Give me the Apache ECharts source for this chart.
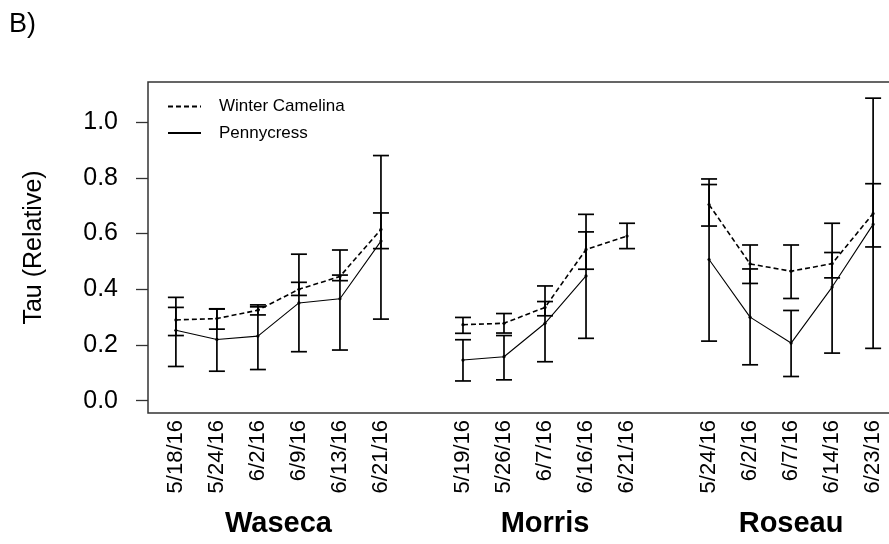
<!DOCTYPE html>
<html><head><meta charset="utf-8">
<script src="https://cdn.jsdelivr.net/npm/echarts@6/dist/echarts.min.js"></script>
<style>html,body{margin:0;padding:0;background:#fff}#c{width:889px;height:544px}</style>
</head><body><div id="c"></div>
<script>
const panelLabel = 'B)';
const yTitle = 'Tau (Relative)';
const yTicks = [0, 0.2, 0.4, 0.6, 0.8, 1.0];
const yLimits = [0, 1.1];
const groupNames = ['Waseca', 'Morris', 'Roseau'];
const wasecaDates = ['5/18/16', '5/24/16', '6/2/16', '6/9/16', '6/13/16', '6/21/16'];
const morrisDates = ['5/19/16', '5/26/16', '6/7/16', '6/16/16', '6/21/16'];
const roseauDates = ['5/24/16', '6/2/16', '6/7/16', '6/14/16', '6/23/16'];
const seriesNames = ['Winter Camelina', 'Pennycress'];

// values listed in order: Waseca dates, Morris dates, Roseau dates
const camelinaMean = [0.290, 0.295, 0.325, 0.400, 0.446, 0.615, 0.273, 0.278, 0.335, 0.543, 0.591, 0.704, 0.491, 0.465, 0.492, 0.672];
const camelinaLow  = [0.234, 0.257, 0.308, 0.378, 0.431, 0.546, 0.242, 0.243, 0.305, 0.472, 0.546, 0.627, 0.421, 0.367, 0.441, 0.552];
const camelinaHigh = [0.335, 0.329, 0.337, 0.425, 0.451, 0.674, 0.299, 0.313, 0.356, 0.606, 0.637, 0.776, 0.559, 0.559, 0.532, 0.779];
const pennyMean = [0.253, 0.220, 0.232, 0.351, 0.366, 0.573, 0.146, 0.158, 0.278, 0.448, null, 0.507, 0.300, 0.207, 0.408, 0.633];
const pennyLow  = [0.123, 0.106, 0.112, 0.176, 0.182, 0.293, 0.071, 0.075, 0.140, 0.224, null, 0.214, 0.129, 0.087, 0.171, 0.188];
const pennyHigh = [0.371, 0.330, 0.344, 0.526, 0.541, 0.880, 0.219, 0.234, 0.412, 0.669, null, 0.796, 0.473, 0.324, 0.637, 1.086];

// ---- build positions (one empty slot between sites) ----
const groups = [wasecaDates, morrisDates, roseauDates];
const positions = [], dateLabels = {}, gapPositions = [], groupCenters = [];
let slot = 0;
groups.forEach(g => {
  const start = slot;
  g.forEach(d => { positions.push(slot); dateLabels[slot] = d; slot++; });
  groupCenters.push((start + slot - 1) / 2);
  gapPositions.push(slot);
  slot++;
});
const xMinData = positions[0], xMaxData = positions[positions.length - 1];
const xPad = 0.04 * (xMaxData - xMinData);
const yPad = 0.04 * (yLimits[1] - yLimits[0]);

function lineData(means) {
  const out = [];
  let k = 0;
  groups.forEach((g, gi) => {
    g.forEach(() => { out.push([positions[k], means[k]]); k++; });
    out.push([gapPositions[gi], null]);
  });
  return out;
}
function barData(low, high, mean) {
  const out = [];
  positions.forEach((p, i) => { if (low[i] != null) out.push([p, low[i], high[i], mean[i]]); });
  return out;
}
function errorBar(params, api) {
  const x = api.value(0);
  const lo = api.coord([x, api.value(1)]);
  const hi = api.coord([x, api.value(2)]);
  const m = api.coord([x, api.value(3)]);
  const cap = 8;
  const st = { stroke: '#000', lineWidth: 1.7 };
  return { type: 'group', children: [
    { type: 'line', shape: { x1: lo[0], y1: lo[1], x2: hi[0], y2: hi[1] }, style: st },
    { type: 'line', shape: { x1: lo[0] - cap, y1: lo[1], x2: lo[0] + cap, y2: lo[1] }, style: st },
    { type: 'line', shape: { x1: hi[0] - cap, y1: hi[1], x2: hi[0] + cap, y2: hi[1] }, style: st },
    { type: 'circle', shape: { cx: m[0], cy: m[1], r: 1.6 }, style: { fill: '#000' } }
  ]};
}

const font = 'Liberation Sans, Arial, sans-serif';
const chart = echarts.init(document.getElementById('c'));
chart.setOption({
  backgroundColor: '#fff',
  animation: false,
  title: { text: panelLabel, left: 4, top: 6, textStyle: { fontFamily: font, fontSize: 27, fontWeight: 'normal', color: '#000' } },
  legend: {
    data: seriesNames, orient: 'vertical', left: 162, top: 93, itemWidth: 33, itemHeight: 14, itemGap: 9.5,
    selectedMode: false,
    itemStyle: { color: 'transparent', borderColor: 'transparent', borderWidth: 0, opacity: 0 },
    textStyle: { fontFamily: font, fontSize: 17, color: '#000', padding: [0, 0, 0, 13] }
  },
  grid: { left: 148, top: 82, width: 753, height: 331, show: true, borderColor: '#333', borderWidth: 1.5, backgroundColor: 'transparent', outerBoundsMode: 'none' },
  xAxis: [{
    type: 'value', min: xMinData - xPad, max: xMaxData + xPad,
    axisLine: { show: false, onZero: false }, axisTick: { show: false }, splitLine: { show: false },
    axisLabel: { customValues: positions, rotate: 90, margin: 7, formatter: v => dateLabels[Math.round(v)] || '',
      fontFamily: font, fontSize: 22, color: '#000' }
  }, {
    type: 'value', min: xMinData - xPad, max: xMaxData + xPad, position: 'bottom',
    axisLine: { show: false, onZero: false }, axisTick: { show: false }, splitLine: { show: false },
    axisLabel: { customValues: groupCenters, margin: 96,
      formatter: v => groupNames[groupCenters.findIndex(c => Math.abs(c - v) < 1e-6)] || '',
      fontFamily: font, fontSize: 29, fontWeight: 'bold', color: '#000' }
  }],
  yAxis: {
    type: 'value', min: yLimits[0] - yPad, max: yLimits[1] + yPad,
    name: yTitle, nameLocation: 'middle', nameGap: 101, nameRotate: 90,
    nameTextStyle: { fontFamily: font, fontSize: 25, color: '#000' },
    axisLine: { show: false, onZero: false }, splitLine: { show: false },
    axisTick: { show: true, customValues: yTicks, length: 12, lineStyle: { color: '#333', width: 1.3 } },
    axisLabel: { customValues: yTicks, margin: 30, padding: [5, 0, 0, 0], formatter: v => v.toFixed(1), fontFamily: font, fontSize: 25, color: '#000' }
  },
  series: [
    { name: seriesNames[0], type: 'line', data: lineData(camelinaMean), symbol: 'none', connectNulls: false,
      lineStyle: { color: '#000', width: 1.6, type: [5, 3] }, itemStyle: { color: '#000' } },
    { name: seriesNames[1], type: 'line', data: lineData(pennyMean), symbol: 'none', connectNulls: false,
      lineStyle: { color: '#000', width: 1.1, type: 'solid' }, itemStyle: { color: '#000' } },
    { name: 'camelina-err', type: 'custom', renderItem: errorBar, data: barData(camelinaLow, camelinaHigh, camelinaMean),
      encode: { x: 0, y: [1, 2] }, z: 3 },
    { name: 'penny-err', type: 'custom', renderItem: errorBar, data: barData(pennyLow, pennyHigh, pennyMean),
      encode: { x: 0, y: [1, 2] }, z: 3 }
  ]
});
</script></body></html>
